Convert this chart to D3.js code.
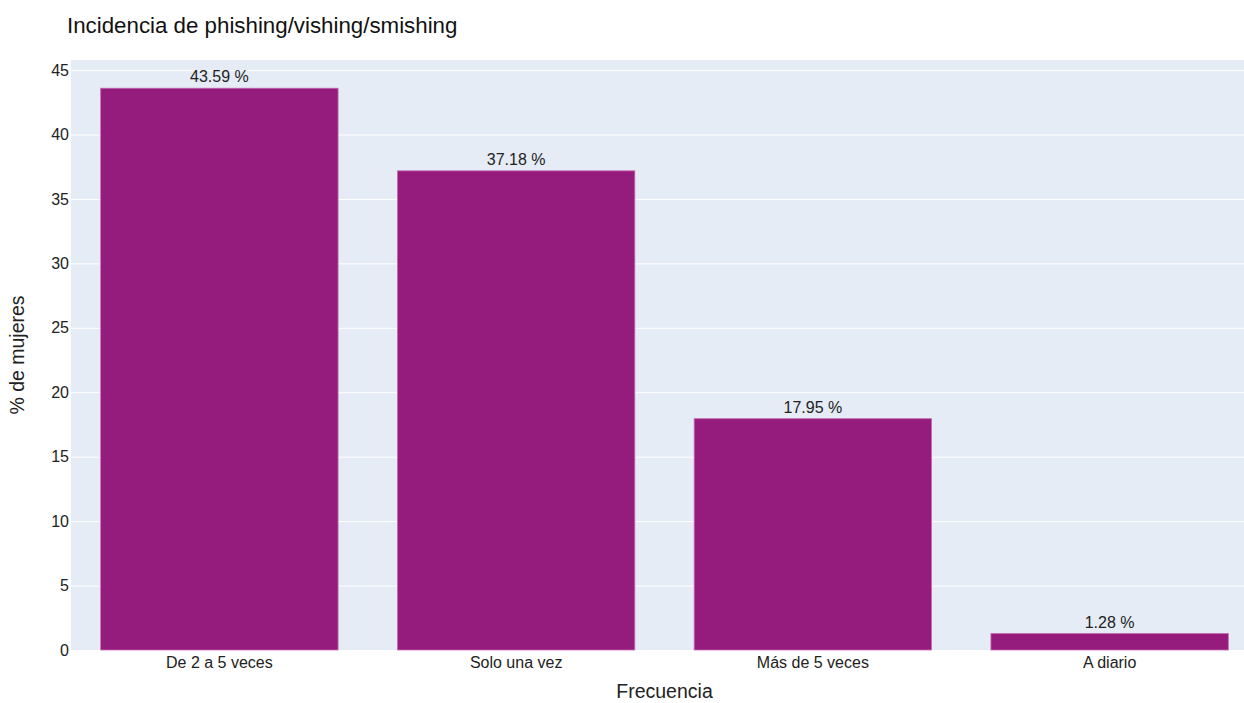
<!DOCTYPE html>
<html><head><meta charset="utf-8">
<script src="https://cdn.jsdelivr.net/npm/d3@7"></script>
<style>body{margin:0;background:#fff;overflow:hidden}text{font-family:"Liberation Sans",Arial,sans-serif}</style>
</head><body>
<svg id="c" width="1244" height="703"></svg>
<script>
const categories = ["De 2 a 5 veces","Solo una vez","Más de 5 veces","A diario"];
const values = [43.59, 37.18, 17.95, 1.28];
const labels = ["43.59 %","37.18 %","17.95 %","1.28 %"];
const yTicks = [0,5,10,15,20,25,30,35,40,45];

const svg = d3.select("#c");
const L = 71, R = 1258, T = 60, B = 650;
const x = d3.scaleBand().domain(categories).range([L, R]).paddingInner(0.2).paddingOuter(0.1);
const y = d3.scaleLinear().domain([0, 45.78]).range([B, T]);

svg.append("rect").attr("x", L).attr("y", T).attr("width", R - L).attr("height", B - T).attr("fill", "#e5ecf6");

const ga = svg.append("g").attr("transform", `translate(${L},0)`)
  .call(d3.axisLeft(y).tickValues(yTicks).tickSize(-(R - L)).tickFormat(d3.format("d")));
ga.select(".domain").remove();
ga.selectAll(".tick line").attr("stroke", "#fff").attr("stroke-width", 1);
ga.selectAll(".tick text").attr("x", -2).attr("font-size", 16).attr("fill", "#222");

const gx = svg.append("g").attr("transform", `translate(0,${B})`)
  .call(d3.axisBottom(x).tickSize(0));
gx.select(".domain").remove();
gx.selectAll(".tick text").attr("dy", "0.95em").attr("font-size", 16).attr("fill", "#222");

svg.selectAll("rect.bar").data(values).join("rect").attr("class", "bar")
  .attr("x", (d, i) => x(categories[i]))
  .attr("width", x.bandwidth())
  .attr("y", d => y(d))
  .attr("height", d => B - y(d))
  .attr("fill", "#951b7d")
  .attr("stroke", "#c76bb3").attr("stroke-width", 0.8);

svg.selectAll("text.lbl").data(values).join("text").attr("class", "lbl")
  .attr("x", (d, i) => x(categories[i]) + x.bandwidth() / 2)
  .attr("y", d => y(d) - 6)
  .attr("text-anchor", "middle").attr("font-size", 16).attr("fill", "#222")
  .text((d, i) => labels[i]);

svg.append("text").attr("x", 67).attr("y", 33).attr("font-size", 22.3).attr("fill", "#111")
  .text("Incidencia de phishing/vishing/smishing");
svg.append("text").attr("x", (L + R) / 2).attr("y", 698).attr("text-anchor", "middle")
  .attr("font-size", 19.5).attr("fill", "#222").text("Frecuencia");
svg.append("text").attr("transform", `translate(24,${(T + B) / 2}) rotate(-90)`)
  .attr("text-anchor", "middle").attr("font-size", 19.5).attr("fill", "#222").text("% de mujeres");
</script>
</body></html>
